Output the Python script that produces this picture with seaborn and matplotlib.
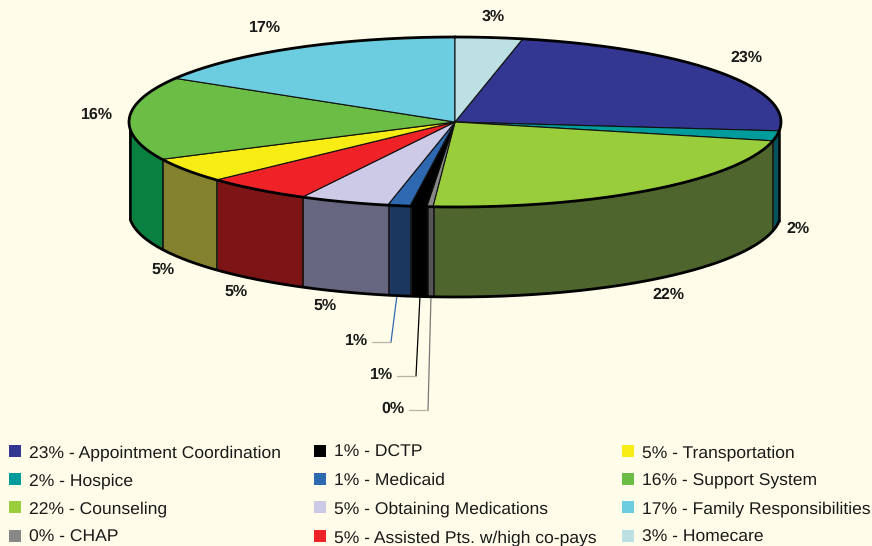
#!/usr/bin/env python3
import numpy as np
import seaborn as sns
import matplotlib
matplotlib.use("Agg")
import matplotlib.pyplot as plt

categories = ["Appointment Coordination", "Hospice", "Counseling", "CHAP", "DCTP", "Medicaid",
              "Obtaining Medications", "Assisted Pts. w/high co-pays", "Transportation",
              "Support System", "Family Responsibilities", "Homecare"]
percent_labels = ["23%", "2%", "22%", "0%", "1%", "1%", "5%", "5%", "5%", "16%", "17%", "3%"]
# slice sizes, a little finer than the rounded labels
shares = [23.3, 1.9, 22.5, 0.3, 0.83, 1.1, 4.44, 5.3, 4.7, 15.8, 16.4, 3.33]

top_colors = ["#343792", "#009b9b", "#9acd3c", "#888888", "#000000", "#2e68b0",
              "#cdcae8", "#ee2227", "#f7ec13", "#6bbd45", "#6dcde0", "#bce0e3"]
side_colors = ["#1d1f55", "#00525a", "#4e662e", "#555555", "#000000", "#1b365f",
               "#666680", "#7d1416", "#85822f", "#0a8040", "#3a7580", "#66797b"]

BG = "#fffde9"
CX, CY, RX, RY, DEPTH = 455, 122, 326, 85, 90
START = 12  # degrees clockwise from the back of the pie
WALL_FROM, WALL_TO = 96, 265


def px(x, y):
    return (x - CX) / RX, (CY - y) / RY


sns.set_theme(style="white", palette=top_colors)
plt.rcParams["font.family"] = ["Liberation Sans", "DejaVu Sans"]
plt.rcParams["text.hinting"] = "no_hinting"

fig = plt.figure(figsize=(8.72, 5.46), dpi=100, facecolor=BG)
ax = fig.add_axes([0, 0, 1, 1], facecolor=BG)

ax.pie(shares, colors=sns.color_palette(top_colors), startangle=90 - START, counterclock=False,
       radius=1, wedgeprops={"edgecolor": "#111111", "linewidth": 0.8, "zorder": 3})
ax.set_aspect("auto")
ax.set_xlim(-CX / RX, (872 - CX) / RX)
ax.set_ylim((CY - 546) / RY, CY / RY)
ax.axis("off")

# side wall, from the same cumulative shares as the top
depth = DEPTH / RY
edges = START + np.cumsum([0] + shares) * 3.6
for i, col in enumerate(side_colors):
    a = max(edges[i], WALL_FROM)
    b = min(edges[i + 1], WALL_TO)
    if b <= a:
        continue
    t = np.radians(np.linspace(a, b, 60))
    xs, ys = np.sin(t), np.cos(t)
    ax.fill_between(xs, ys, ys - depth, color=col, linewidth=0, zorder=1)
    ax.plot([xs[-1], xs[-1]], [ys[-1], ys[-1] - depth], color="#111111", lw=1.2, zorder=2)

t = np.radians(np.linspace(WALL_FROM, WALL_TO, 300))
ax.plot(np.sin(t), np.cos(t) - depth, color="black", lw=2.0, zorder=2)
for a in (WALL_FROM, WALL_TO):
    r = np.radians(a)
    ax.plot([np.sin(r)] * 2, [np.cos(r), np.cos(r) - depth], color="black", lw=1.8, zorder=2)

# rim of the top face
t = np.radians(np.linspace(0, 360, 600))
ax.plot(np.sin(t), np.cos(t), color="black", lw=2.0, zorder=4)

# percent labels, order follows categories
label_px = [(746, 58), (798, 229), (668, 295), (393, 409), (382, 375), (357, 341),
            (325, 306), (236, 292), (163, 270), (97, 115), (265, 28), (493, 17)]
for lab, (x, y) in zip(percent_labels, label_px):
    lx, ly = px(x, y)
    ax.text(lx, ly, lab, ha="center", va="center", fontsize=11.5, fontweight="bold",
            color="#1a1a1a", zorder=5)

# leader lines for the three thin slices
leaders = [[(397, 295), (391, 342), (372, 342)],
           [(420, 296), (416, 376), (397, 376)],
           [(431, 296), (428, 410), (409, 410)]]
leader_colors = ["#2e68b0", "#000000", "#777777"]
for pts, col in zip(leaders, leader_colors):
    p = [px(*q) for q in pts]
    ax.plot([p[0][0], p[1][0]], [p[0][1], p[1][1]], color=col, lw=0.9, zorder=1)
    ax.plot([p[1][0], p[2][0]], [p[1][1], p[2][1]], color="#b5b5a8", lw=0.9, zorder=1)

# legend, three columns filled in slice order; placed by hand so rows line up across columns
col_left = [9, 314, 622]
row_mid = [451, 479, 507, 536]
for i, (cat, lab, col) in enumerate(zip(categories, percent_labels, top_colors)):
    left = col_left[i // 4]
    mid = row_mid[i % 4]
    ax.scatter(*px(left + 6, mid), marker="s", s=75, color=col, linewidth=0, clip_on=False)
    tx, ty = px(left + 20, mid + 6)
    ax.text(tx, ty, f"{lab} - {cat}", ha="left", va="baseline", fontsize=12.6, color="#1a1a1a")

fig.savefig("out.png", dpi=100, facecolor=BG)
